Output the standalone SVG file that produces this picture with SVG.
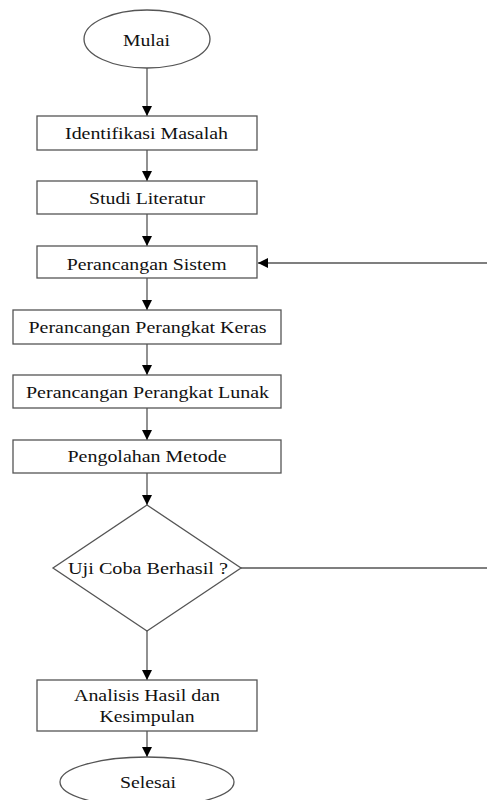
<svg xmlns="http://www.w3.org/2000/svg" width="487" height="800" viewBox="0 0 487 800">
<style>
.shape{fill:#fff;stroke:#555;stroke-width:1.3}
.lbl{font-family:"Liberation Serif","Times New Roman",serif;font-size:16px;fill:#111;text-anchor:middle}
.conn{fill:none;stroke:#555;stroke-width:1.3}
</style>
<defs>
<marker id="arr" markerUnits="userSpaceOnUse" markerWidth="11" markerHeight="11" refX="10" refY="5" orient="auto">
<path d="M0,0 L10,5 L0,10 Z" fill="#000"/>
</marker>
</defs>
<rect width="487" height="800" fill="#fff"/>
<g id="connectors">
<line class="conn" x1="147" y1="68" x2="147" y2="116" marker-end="url(#arr)"/>
<line class="conn" x1="147" y1="150" x2="147" y2="181" marker-end="url(#arr)"/>
<line class="conn" x1="147" y1="214" x2="147" y2="246" marker-end="url(#arr)"/>
<line class="conn" x1="147" y1="278" x2="147" y2="310" marker-end="url(#arr)"/>
<line class="conn" x1="147" y1="344" x2="147" y2="375" marker-end="url(#arr)"/>
<line class="conn" x1="147" y1="408" x2="147" y2="440" marker-end="url(#arr)"/>
<line class="conn" x1="147" y1="473" x2="147" y2="505" marker-end="url(#arr)"/>
<line class="conn" x1="147" y1="631" x2="147" y2="680" marker-end="url(#arr)"/>
<line class="conn" x1="147" y1="731" x2="147" y2="757" marker-end="url(#arr)"/>
<path class="conn" d="M241,568 H489 V263 H258" marker-end="url(#arr)"/>
</g>
<g id="mulai">
<ellipse class="shape" cx="147" cy="39" rx="63" ry="29"/>
<text class="lbl" x="146.5" y="46" textLength="47" lengthAdjust="spacingAndGlyphs">Mulai</text>
</g>
<g id="identifikasi">
<rect class="shape" x="37" y="116" width="220" height="34"/>
<text class="lbl" x="146.5" y="138.5" textLength="163" lengthAdjust="spacingAndGlyphs">Identifikasi Masalah</text>
</g>
<g id="studi">
<rect class="shape" x="37" y="181" width="220" height="33"/>
<text class="lbl" x="147" y="203.5" textLength="116" lengthAdjust="spacingAndGlyphs">Studi Literatur</text>
</g>
<g id="perancangan-sistem">
<rect class="shape" x="37" y="246" width="220" height="32"/>
<text class="lbl" x="146.7" y="269.5" textLength="160" lengthAdjust="spacingAndGlyphs">Perancangan Sistem</text>
</g>
<g id="perangkat-keras">
<rect class="shape" x="13" y="310" width="268" height="34"/>
<text class="lbl" x="147.5" y="333" textLength="238" lengthAdjust="spacingAndGlyphs">Perancangan Perangkat Keras</text>
</g>
<g id="perangkat-lunak">
<rect class="shape" x="13" y="375" width="268" height="33"/>
<text class="lbl" x="147.5" y="398" textLength="243" lengthAdjust="spacingAndGlyphs">Perancangan Perangkat Lunak</text>
</g>
<g id="pengolahan">
<rect class="shape" x="13" y="440" width="268" height="33"/>
<text class="lbl" x="147" y="462" textLength="159" lengthAdjust="spacingAndGlyphs">Pengolahan Metode</text>
</g>
<g id="uji-coba">
<polygon class="shape" points="147,505 241,568 147,631 53,568"/>
<text class="lbl" x="148" y="574" textLength="160" lengthAdjust="spacingAndGlyphs">Uji Coba Berhasil ?</text>
</g>
<g id="analisis">
<rect class="shape" x="37" y="680" width="220" height="51"/>
<text class="lbl" x="147" y="701" textLength="146" lengthAdjust="spacingAndGlyphs">Analisis Hasil dan</text>
<text class="lbl" x="147" y="722" textLength="95" lengthAdjust="spacingAndGlyphs">Kesimpulan</text>
</g>
<g id="selesai">
<ellipse class="shape" cx="147" cy="782" rx="87" ry="25"/>
<text class="lbl" x="148" y="787.5" textLength="56" lengthAdjust="spacingAndGlyphs">Selesai</text>
</g>
</svg>
